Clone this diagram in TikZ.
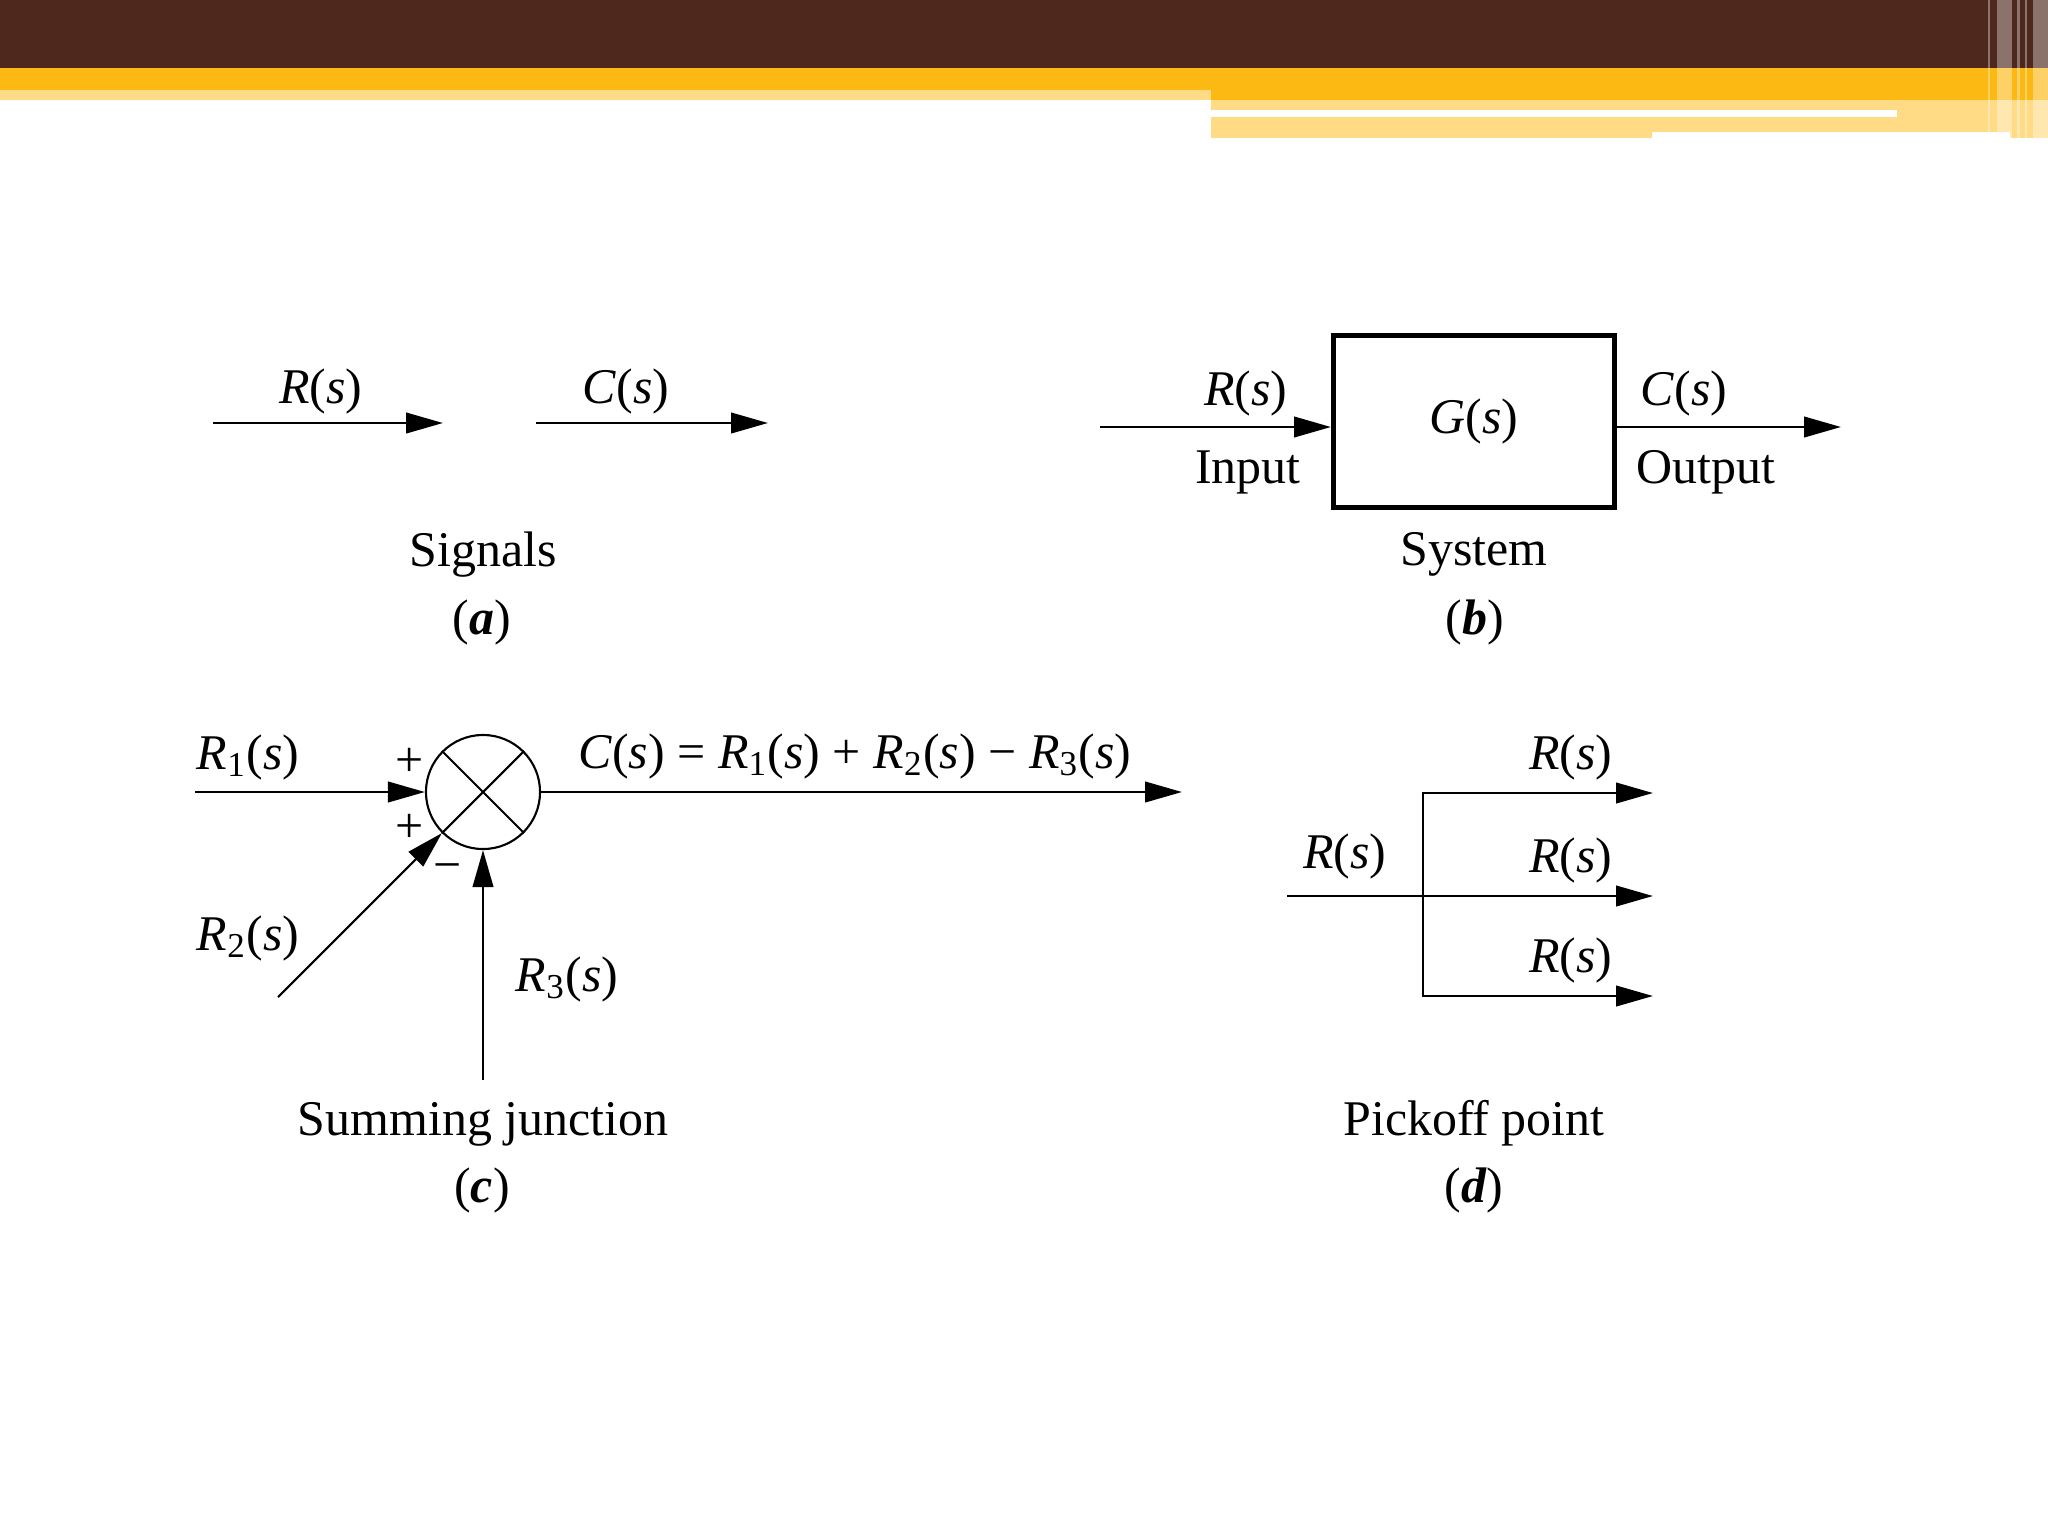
\documentclass[tikz,border=0pt]{standalone}
\usepackage{fontspec}
\setmainfont{Liberation Serif}
\usetikzlibrary{arrows.meta,positioning}
\definecolor{barbrown}{HTML}{4E281C}
\definecolor{barorange}{HTML}{FDB913}
\definecolor{barlight}{HTML}{FFDB85}
\newcommand{\sig}[1]{\textit{#1}(\textit{s})}
\newcommand{\subsig}[2]{\textit{#1}\textsubscript{#2}(\textit{s})}
\newcommand{\tagletter}[1]{(\textbf{\textit{#1}})}

\begin{document}
\begin{tikzpicture}[
  x=0.01cm, y=-0.01cm,
  lbl/.style={font=\fontsize{14.2}{17}\selectfont, inner sep=0pt, anchor=base},
  sgn/.style={font=\fontsize{14.2}{17}\selectfont, inner sep=0pt},
  arr/.style={-{Triangle[length=10.5pt,width=5.8pt]}, line width=0.8pt},
  sysbox/.style={draw, line width=1.4pt, minimum width=2.81cm,
                 minimum height=1.72cm, inner sep=0pt,
                 font=\fontsize{14.2}{17}\selectfont},
  sumnode/.style={draw, circle, line width=0.6pt, minimum size=1.14cm, inner sep=0pt},
  stripe/.style={fill=white, opacity=0.35}
]
  \useasboundingbox (0,0) rectangle (2048,1536);
  \fill[white] (0,0) rectangle (2048,1536);

  %% Title bar
  \fill[barbrown] (0,0) rectangle (2048,68);
  \fill[barorange] (0,68) rectangle (2048,90);
  \fill[barorange] (1211,90) rectangle (2048,100);
  \fill[barlight] (0,90) rectangle (1211,100);
  \fill[barlight] (1211,100) rectangle (2010,132);
  \fill[barlight] (1211,132) rectangle (1652,138);
  \fill[barlight] (2010,100) rectangle (2048,138);
  \fill[white] (1211,110) rectangle (1897,117);
  \foreach \xa/\xb/\yb in {1988/1990/132, 1997/2010/132, 2010/2012/138,
                           2017/2020/138, 2025/2027/138, 2033/2048/138}
    \fill[stripe] (\xa,0) rectangle (\xb,\yb);

  %% (a) Signals
  \coordinate (ra0) at (213,423);
  \coordinate (ra1) at (443,423);
  \coordinate (ca0) at (536,423);
  \coordinate (ca1) at (768,423);
  \draw[arr] (ra0) -- (ra1);
  \draw[arr] (ca0) -- (ca1);
  \node[lbl] (raL) at (321,403) {\sig{R}};
  \node[lbl] (caL) at (626,403) {\sig{C}};
  \node[lbl] (capA) at (483,566) {Signals};
  \node[lbl] (tagA) at (482,634) {\tagletter{a}};

  %% (b) System
  \node[sysbox] (sys) at (1474,421.5) {\sig{G}};
  \coordinate (bin) at (1100,427);
  \coordinate (bout) at (1841,427);
  \draw[arr] (bin) -- (bin -| sys.west);
  \draw[arr] (bout -| sys.east) -- (bout);
  \node[lbl] (rbL) at (1246,405) {\sig{R}};
  \node[lbl] (inL) at (1248,483) {Input};
  \node[lbl] (cbL) at (1684,405) {\sig{C}};
  \node[lbl] (outL) at (1706,483) {Output};
  \node[lbl] (capB) at (1474,565) {System};
  \node[lbl] (tagB) at (1475,634) {\tagletter{b}};

  %% (c) Summing junction
  \node[sumnode] (sum) at (483,792) {};
  \draw[line width=0.6pt] (sum.45) -- (sum.225) (sum.135) -- (sum.-45);
  \coordinate (r1in) at (195,792);
  \coordinate (cout) at (1182,792);
  \coordinate (r2in) at (278,997);
  \coordinate (r3in) at (483,1080);
  \draw[arr] (r1in) -- (sum.west);
  \draw[arr] (sum.east) -- (cout);
  \draw[arr, line width=0.6pt] (r2in) -- (sum.225);
  \draw[arr] (r3in) -- (sum.south);
  \node[lbl] (r1L) at (248,769) {\subsig{R}{1}};
  \node[sgn] (p1) at (410,762) {+};
  \node[sgn] (p2) at (410,828) {+};
  \node[sgn] (m3) at (448,873) {\textminus};
  \node[lbl] (eqL) at (855,768)
    {\sig{C} = \subsig{R}{1} + \subsig{R}{2} \textminus\ \subsig{R}{3}};
  \node[lbl] (r2L) at (248,950) {\subsig{R}{2}};
  \node[lbl] (r3L) at (567,991) {\subsig{R}{3}};
  \node[lbl] (capC) at (483,1135) {Summing junction};
  \node[lbl] (tagC) at (482,1202) {\tagletter{c}};

  %% (d) Pickoff point
  \coordinate (pin) at (1287,896);
  \coordinate (pj) at (1423,896);
  \coordinate (po1) at (1653,793);
  \coordinate (po2) at (1653,896);
  \coordinate (po3) at (1653,996);
  \draw[arr] (pin) -- (po2);
  \draw[arr] (pj) |- (po1);
  \draw[arr] (pj) |- (po3);
  \node[lbl] (pinL) at (1345,868) {\sig{R}};
  \node[lbl] (po1L) at (1571,769) {\sig{R}};
  \node[lbl] (po2L) at (1571,872) {\sig{R}};
  \node[lbl] (po3L) at (1571,972) {\sig{R}};
  \node[lbl] (capD) at (1474,1135) {Pickoff point};
  \node[lbl] (tagD) at (1474,1202) {\tagletter{d}};
\end{tikzpicture}
\end{document}
